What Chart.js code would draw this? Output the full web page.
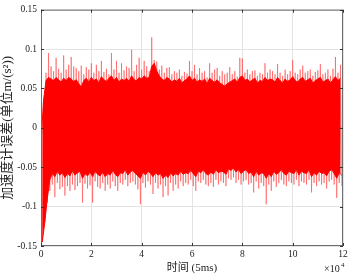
<!DOCTYPE html>
<html lang="zh">
<head>
  <meta charset="UTF-8">
  <title>加速度计误差</title>
  <style>
    html, body { margin: 0; padding: 0; background: #fff; }
    .chartBox { width: 351px; height: 279px; }
  </style>
</head>
<body>
  <div class="chartBox">
    <canvas id="myChart" width="351" height="279"></canvas>
  </div>

<script src="https://cdn.jsdelivr.net/npm/chart.js"></script>
<script>
  // one column every 1000 samples: upper / lower extremes
  const sampleStep = 1000;

  // pink spikes (outer extremes)
  const peakHi = [
    -0.02, 0.035, 0.07, 0.095, 0.078, 0.072, 0.089, 0.075, 0.070, 0.092,
    0.074, 0.080, 0.090, 0.078, 0.076, 0.072, 0.079, 0.068, 0.077, 0.074,
    0.082, 0.070, 0.080, 0.072, 0.085, 0.071, 0.075, 0.068, 0.095, 0.074,
    0.085, 0.070, 0.082, 0.073, 0.078, 0.076, 0.099, 0.072, 0.080, 0.089,
    0.074, 0.085, 0.078, 0.072, 0.115, 0.086, 0.084, 0.074, 0.079, 0.070,
    0.076, 0.077, 0.068, 0.072, 0.070, 0.074, 0.066, 0.071, 0.069, 0.085,
    0.072, 0.080, 0.068, 0.076, 0.070, 0.072, 0.064, 0.082, 0.070, 0.074,
    0.076, 0.066, 0.072, 0.068, 0.070, 0.077, 0.068, 0.072, 0.065, 0.089,
    0.088, 0.070, 0.074, 0.068, 0.072, 0.073, 0.066, 0.070, 0.068, 0.082,
    0.070, 0.074, 0.072, 0.068, 0.081, 0.070, 0.066, 0.074, 0.068, 0.072,
    0.086, 0.070, 0.068, 0.074, 0.079, 0.070, 0.072, 0.074, 0.066, 0.071,
    0.073, 0.081, 0.068, 0.070, 0.074, 0.066, 0.075, 0.090, 0.070, 0.080
  ];
  const peakLo = [
    -0.145, -0.12, -0.095, -0.080, -0.072, -0.088, -0.070, -0.078, -0.075, -0.086,
    -0.074, -0.080, -0.072, -0.079, -0.074, -0.070, -0.095, -0.071, -0.077, -0.073,
    -0.095, -0.068, -0.075, -0.077, -0.070, -0.080, -0.072, -0.077, -0.068, -0.074,
    -0.080, -0.070, -0.072, -0.066, -0.074, -0.070, -0.068, -0.072, -0.078, -0.097,
    -0.070, -0.076, -0.068, -0.072, -0.084, -0.070, -0.077, -0.072, -0.088, -0.074,
    -0.086, -0.070, -0.080, -0.072, -0.077, -0.068, -0.074, -0.070, -0.072, -0.066,
    -0.074, -0.080, -0.068, -0.070, -0.066, -0.072, -0.074, -0.070, -0.075, -0.066,
    -0.072, -0.068, -0.070, -0.074, -0.064, -0.066, -0.063, -0.070, -0.066, -0.072,
    -0.068, -0.066, -0.072, -0.070, -0.082, -0.068, -0.077, -0.070, -0.074, -0.097,
    -0.072, -0.080, -0.068, -0.075, -0.070, -0.066, -0.072, -0.074, -0.068, -0.070,
    -0.072, -0.066, -0.074, -0.068, -0.070, -0.072, -0.066, -0.082, -0.070, -0.074,
    -0.068, -0.072, -0.070, -0.077, -0.068, -0.066, -0.072, -0.089, -0.070, -0.074
  ];

  // solid red core of the band
  const coreHi = [
    -0.02, 0.035, 0.060, 0.064, 0.062, 0.060, 0.064, 0.061, 0.058, 0.063,
    0.060, 0.064, 0.062, 0.059, 0.061, 0.056, 0.052, 0.060, 0.063, 0.058,
    0.064, 0.060, 0.062, 0.057, 0.065, 0.061, 0.059, 0.063, 0.066, 0.060,
    0.064, 0.058, 0.062, 0.060, 0.063, 0.059, 0.066, 0.061, 0.060, 0.064,
    0.062, 0.066, 0.063, 0.064, 0.078, 0.082, 0.072, 0.066, 0.062, 0.060,
    0.064, 0.062, 0.058, 0.061, 0.059, 0.063, 0.057, 0.060, 0.062, 0.066,
    0.060, 0.063, 0.058, 0.061, 0.059, 0.062, 0.056, 0.063, 0.060, 0.058,
    0.061, 0.057, 0.055, 0.053, 0.056, 0.058, 0.060, 0.062, 0.058, 0.064,
    0.066, 0.060, 0.062, 0.058, 0.061, 0.063, 0.057, 0.060, 0.059, 0.064,
    0.060, 0.062, 0.061, 0.058, 0.064, 0.060, 0.057, 0.062, 0.059, 0.061,
    0.065, 0.060, 0.058, 0.062, 0.064, 0.059, 0.061, 0.063, 0.057, 0.060,
    0.062, 0.064, 0.058, 0.060, 0.062, 0.057, 0.061, 0.065, 0.060, 0.063
  ];
  const coreLo = [
    -0.145, -0.12, -0.09, -0.066, -0.058, -0.062, -0.055, -0.060, -0.057, -0.063,
    -0.058, -0.061, -0.054, -0.060, -0.057, -0.055, -0.064, -0.058, -0.061, -0.056,
    -0.062, -0.055, -0.059, -0.061, -0.056, -0.062, -0.058, -0.060, -0.054, -0.059,
    -0.062, -0.057, -0.058, -0.053, -0.060, -0.056, -0.054, -0.058, -0.061, -0.064,
    -0.056, -0.060, -0.055, -0.058, -0.062, -0.057, -0.060, -0.058, -0.064, -0.060,
    -0.063, -0.057, -0.061, -0.058, -0.060, -0.055, -0.059, -0.057, -0.058, -0.054,
    -0.058, -0.062, -0.055, -0.057, -0.053, -0.058, -0.060, -0.056, -0.059, -0.053,
    -0.057, -0.055, -0.056, -0.059, -0.052, -0.054, -0.051, -0.056, -0.053, -0.058,
    -0.055, -0.053, -0.058, -0.056, -0.062, -0.055, -0.060, -0.057, -0.058, -0.064,
    -0.058, -0.062, -0.055, -0.059, -0.057, -0.053, -0.058, -0.060, -0.055, -0.057,
    -0.058, -0.053, -0.060, -0.055, -0.057, -0.058, -0.053, -0.062, -0.057, -0.060,
    -0.055, -0.058, -0.057, -0.061, -0.055, -0.053, -0.058, -0.064, -0.057, -0.060
  ];

  const xTicks = [0, 2, 4, 6, 8, 10, 12];            // ×10^4
  const yTicks = [-0.15, -0.1, -0.05, 0, 0.05, 0.1, 0.15];

  // zigzag: high at k*step, low half a step later
  function zigzag(hi, lo) {
    const pts = [];
    for (let k = 0; k < hi.length; k++) {
      pts.push({ x: k * sampleStep, y: hi[k] });
      pts.push({ x: k * sampleStep + sampleStep / 2, y: lo[k] });
    }
    return pts;
  }
  function edge(vals, shift) {
    return vals.map((v, k) => ({ x: k * sampleStep + shift, y: v }));
  }

  const serif = "'Liberation Serif', 'Times New Roman', 'Noto Sans CJK SC', serif";

  // box + inward ticks on all four sides, plus the ×10^4 exponent
  const boxPlugin = {
    id: 'box',
    afterDraw(chart) {
      const { ctx, chartArea: a, scales } = chart;
      ctx.save();
      ctx.strokeStyle = '#6e6e6e';
      ctx.lineWidth = 1;
      ctx.strokeRect(a.left + 0.5, a.top + 0.5, a.right - a.left - 1, a.bottom - a.top - 1);
      ctx.strokeStyle = '#333';
      ctx.beginPath();
      xTicks.forEach(t => {
        const px = Math.round(scales.x.getPixelForValue(t * 10000)) + 0.5;
        ctx.moveTo(px, a.bottom); ctx.lineTo(px, a.bottom - 3);
        ctx.moveTo(px, a.top); ctx.lineTo(px, a.top + 3);
      });
      yTicks.forEach(t => {
        const py = Math.round(scales.y.getPixelForValue(t)) + 0.5;
        ctx.moveTo(a.left, py); ctx.lineTo(a.left + 3, py);
        ctx.moveTo(a.right, py); ctx.lineTo(a.right - 3, py);
      });
      ctx.stroke();
      ctx.fillStyle = '#222';
      ctx.font = '10px ' + serif;
      ctx.textAlign = 'left';
      ctx.textBaseline = 'alphabetic';
      ctx.fillText('×10', a.right - 19, 272);
      ctx.font = '7px ' + serif;
      ctx.fillText('4', a.right - 2, 267);
      ctx.restore();
    }
  };

  new Chart(document.getElementById('myChart'), {
    type: 'line',
    data: {
      datasets: [
        {
          label: 'peaks',
          data: zigzag(peakHi, peakLo),
          borderColor: 'rgba(255, 70, 70, 0.55)',
          borderWidth: 1,
          pointRadius: 0,
          fill: false,
          order: 3
        },
        {
          label: 'core top',
          data: edge(coreHi, 0),
          borderColor: '#ff0000',
          borderWidth: 1,
          pointRadius: 0,
          fill: false,
          order: 1
        },
        {
          label: 'core bottom',
          data: edge(coreLo, sampleStep / 2),
          borderColor: '#ff0000',
          backgroundColor: '#ff0000',
          borderWidth: 1,
          pointRadius: 0,
          fill: '-1',
          order: 1
        }
      ]
    },
    options: {
      responsive: false,
      animation: false,
      events: [],
      layout: { padding: { top: 6, right: 8, left: 0, bottom: 0 } },
      plugins: { legend: { display: false }, tooltip: { enabled: false } },
      elements: { line: { tension: 0 } },
      scales: {
        x: {
          type: 'linear',
          min: 0,
          max: 120000,
          afterFit: s => { s.height = 33; },
          afterBuildTicks: s => { s.ticks = xTicks.map(v => ({ value: v * 10000 })); },
          ticks: {
            callback: v => String(v / 10000),
            font: { family: serif, size: 9.5 },
            color: '#222',
            padding: 3,
            maxRotation: 0
          },
          grid: { color: '#e3e3e3', drawTicks: false },
          border: { display: false },
          title: {
            display: true,
            text: '时间 (5ms)',
            font: { family: serif, size: 11 },
            color: '#222',
            padding: { top: 0, bottom: 4 }
          }
        },
        y: {
          min: -0.15,
          max: 0.15,
          afterFit: s => { s.width = 41; },
          afterBuildTicks: s => { s.ticks = yTicks.map(v => ({ value: v })); },
          ticks: {
            callback: v => String(Math.round(v * 100) / 100),
            font: { family: serif, size: 9.5 },
            color: '#222',
            padding: 4
          },
          grid: { color: '#e3e3e3', drawTicks: false },
          border: { display: false },
          title: {
            display: true,
            text: '加速度计误差(单位m/(s²))',
            font: { family: serif, size: 13 },
            color: '#222',
            padding: { top: 0, bottom: 3 }
          }
        }
      }
    },
    plugins: [boxPlugin]
  });
</script>
</body>
</html>
